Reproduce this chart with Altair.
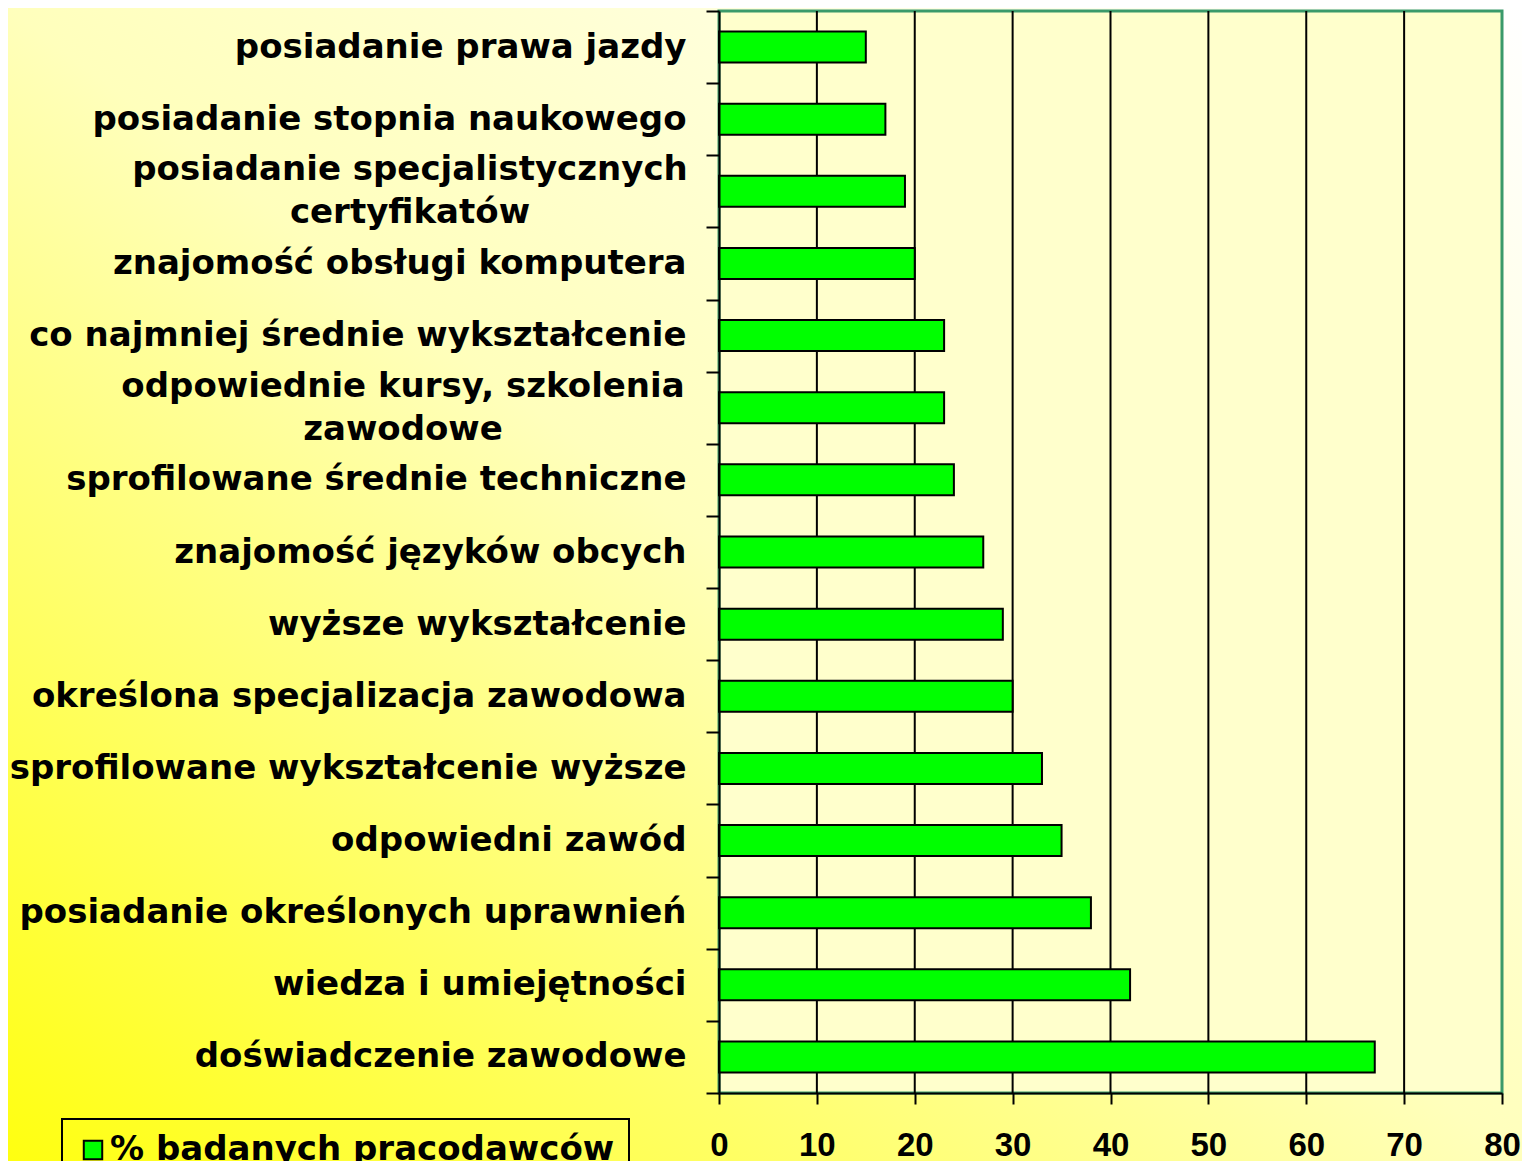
import altair as alt
import pandas as pd

categories = [
    "posiadanie prawa jazdy",
    "posiadanie stopnia naukowego",
    "posiadanie specjalistycznych\ncertyfikatów",
    "znajomość obsługi komputera",
    "co najmniej średnie wykształcenie",
    "odpowiednie kursy, szkolenia\nzawodowe",
    "sprofilowane średnie techniczne",
    "znajomość języków obcych",
    "wyższe wykształcenie",
    "określona specjalizacja zawodowa",
    "sprofilowane wykształcenie wyższe",
    "odpowiedni zawód",
    "posiadanie określonych uprawnień",
    "wiedza i umiejętności",
    "doświadczenie zawodowe",
]
values = [15, 17, 19, 20, 23, 23, 24, 27, 29, 30, 33, 35, 38, 42, 67]
series_name = "% badanych pracodawców"
x_ticks = [0, 10, 20, 30, 40, 50, 60, 70, 80]
grid_vals = [10, 20, 30, 40, 50, 60, 70]

W, H = 783, 1082
PL, PT, PR, PB = 711, 3, 20, 68

df = pd.DataFrame({"cat": categories, "value": values, "series": [series_name] * len(values)})
one = pd.DataFrame({"a": [0]})
grid_df = pd.DataFrame({"value": grid_vals})

xscale = alt.Scale(domain=[0, 80], nice=False, zero=True)
yscale = alt.Scale(paddingInner=0, paddingOuter=0)

bg = alt.Chart(one).mark_rect(
    fill=alt.Gradient(
        gradient="linear",
        x1=0, y1=1, x2=1, y2=0,
        stops=[
            alt.GradientStop(color="#FFFF10", offset=0),
            alt.GradientStop(color="#FFFFBC", offset=0.5),
            alt.GradientStop(color="#FFFFFF", offset=1),
        ],
    )
).encode(
    x=alt.value(-PL), x2=alt.value(W + PR), y=alt.value(-PT), y2=alt.value(H + PB)
)

plot_bg = alt.Chart(one).mark_rect(
    fill="#FFFFCC", stroke="#3A9A6A", strokeWidth=3
).encode(x=alt.value(0), x2=alt.value(W), y=alt.value(0), y2=alt.value(H))

grid = alt.Chart(grid_df).mark_rule(color="black", strokeWidth=2).encode(
    x=alt.X("value:Q", scale=xscale),
    y=alt.value(0),
    y2=alt.value(H),
)

bars = alt.Chart(df).mark_bar(size=31, stroke="black", strokeWidth=2).encode(
    x=alt.X(
        "value:Q",
        scale=xscale,
        axis=alt.Axis(
            title=None,
            values=x_ticks,
            grid=False,
            domainColor="black",
            domainWidth=2,
            tickColor="black",
            tickWidth=2,
            tickSize=11,
            labelFont="Liberation Sans",
            labelFontWeight="bold",
            labelFontSize=33,
            labelColor="black",
            labelPadding=25,
            labelFlush=False,
            labelOverlap=False,
            zindex=1,
        ),
    ),
    y=alt.Y(
        "cat:N",
        sort=categories,
        scale=yscale,
        axis=alt.Axis(
            title=None,
            tickBand="extent",
            grid=False,
            domainColor="black",
            domainWidth=2,
            tickColor="black",
            tickWidth=2,
            tickSize=13,
            labelFont="DejaVu Sans",
            labelFontWeight="bold",
            labelFontSize=34,
            labelColor="black",
            labelPadding=20,
            labelLimit=0,
            labelExpr="indexof(datum.label, '\\n') >= 0 ? '' : datum.label",
            zindex=1,
        ),
    ),
    color=alt.Color(
        "series:N",
        scale=alt.Scale(range=["#00FF00"]),
        legend=alt.Legend(
            title=None,
            orient="none",
            legendX=-657,
            legendY=1108,
            symbolType="square",
            symbolSize=340,
            symbolStrokeColor="black",
            symbolStrokeWidth=2,
            symbolFillColor="#00FF00",
            labelFont="DejaVu Sans",
            labelFontWeight="bold",
            labelFontSize=34,
            labelColor="black",
            labelOffset=0,
            labelLimit=0,
            padding=14,
            strokeColor="black",
        ),
    ),
)


def wrapped_label(key, xpos):
    return alt.Chart(df).transform_filter(
        f"indexof(datum.cat, '{key}') >= 0"
    ).mark_text(
        align="center",
        baseline="middle",
        lineBreak="\n",
        lineHeight=43,
        dy=-21,
        font="DejaVu Sans",
        fontWeight="bold",
        fontSize=34,
        color="black",
    ).encode(
        y=alt.Y("cat:N", sort=categories, scale=yscale),
        x=alt.value(xpos),
        text="cat:N",
    )


lab1 = wrapped_label("certyfikat", -309)
lab2 = wrapped_label("kursy", -316)

chart = alt.layer(bg, plot_bg, grid, bars, lab1, lab2).properties(
    width=W,
    height=H,
    padding={"left": PL, "top": PT, "right": PR, "bottom": PB},
    autosize=alt.AutoSizeParams(type="none"),
).configure_view(stroke=None).configure(background="#FFFFFF").configure_legend(
    strokeWidth=2, strokeColor="black"
)

chart.save("out.html", embed_options={"renderer": "svg", "actions": False})
